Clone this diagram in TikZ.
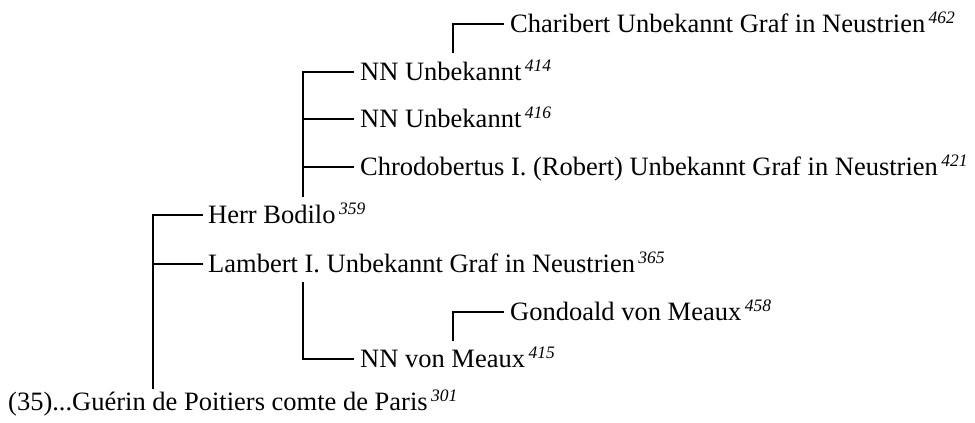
\documentclass[tikz,border=0pt]{standalone}
\usepackage{fontspec}
\setmainfont{Liberation Serif}
\usetikzlibrary{calc}
\newcommand\sref[1]{\hspace{3.5pt}\raisebox{9pt}{\fontsize{17.5}{17.5}\selectfont\itshape #1}}
\tikzset{
  person/.style={anchor=base west, inner sep=0pt, font=\fontsize{26.5}{30}\selectfont},
  link/.style={line width=1.5pt, line cap=rect}
}
\begin{document}
\begin{tikzpicture}[x=1pt,y=-1pt]
\useasboundingbox (0,0) rectangle (975,423);
\node[person] (gue) at (8,410) {(35)...Guérin de Poitiers comte de Paris\sref{301}};
\node[person] (her) at (208,223) {Herr Bodilo\sref{359}};
\node[person] (lam) at (208,272) {Lambert I. Unbekannt Graf in Neustrien\sref{365}};
\node[person] (n14) at (360,80) {NN Unbekannt\sref{414}};
\node[person] (n16) at (360,127) {NN Unbekannt\sref{416}};
\node[person] (chr) at (360,175) {Chrodobertus I. (Robert) Unbekannt Graf in Neustrien\sref{421}};
\node[person] (cha) at (510,32) {Charibert Unbekannt Graf in Neustrien\sref{462}};
\node[person] (nvm) at (360,367) {NN von Meaux\sref{415}};
\node[person] (gon) at (510,320) {Gondoald von Meaux\sref{458}};
% stems
\coordinate (sgue) at ($(gue.base west)+(145,-22)$);
\coordinate (sher) at ($(her.base west)+(95,-27)$);
\coordinate (slam) at ($(lam.base west)+(95,11)$);
\coordinate (sn14) at ($(n14.base west)+(93,-28)$);
\coordinate (snvm) at ($(nvm.base west)+(93,-27)$);
% connectors
\draw[link] (sgue) |- ($(her.base west)+(-6,-8)$);
\draw[link] (sgue) |- ($(lam.base west)+(-6,-8)$);
\draw[link] (sher) |- ($(n14.base west)+(-7,-8)$);
\draw[link] (sher) |- ($(n16.base west)+(-7,-8)$);
\draw[link] (sher) |- ($(chr.base west)+(-7,-8)$);
\draw[link] (slam) |- ($(nvm.base west)+(-7,-8)$);
\draw[link] (sn14) |- ($(cha.base west)+(-7,-8)$);
\draw[link] (snvm) |- ($(gon.base west)+(-7,-8)$);
\end{tikzpicture}
\end{document}
